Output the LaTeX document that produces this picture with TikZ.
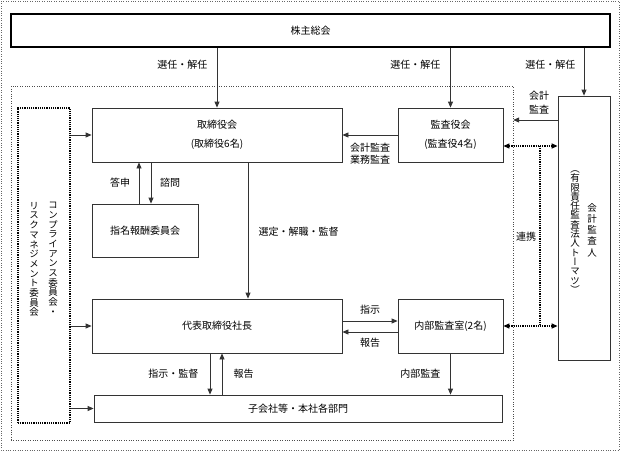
\documentclass[tikz,border=0pt]{standalone}
\usepackage{fontspec}
\setmainfont{Noto Sans CJK JP}
\newfontfamily\vjp[RawFeature=+vert]{Noto Sans CJK JP}
\usetikzlibrary{arrows.meta, calc}

\begin{document}
\begin{tikzpicture}[
        x=1pt, y=-1pt,
        font=\fontsize{10}{12}\selectfont,
        box/.style={draw=black!80, line width=0.8pt, inner sep=0pt},
        dotbox/.style={draw=black, densely dotted, line width=1.2pt, inner sep=0pt},
        vtext/.style={align=center, inner sep=0pt, font=\vjp\fontsize{9.5}{#1}\selectfont},
        vtext/.default=9.7,
        arr/.style={draw=black!80, line width=0.8pt, -{Triangle[length=6pt, width=5pt]}},
        link/.style={draw=black, densely dotted, line width=1.2pt},
        linkarr/.style={link, {Triangle[length=6pt, width=5pt]}-{Triangle[length=6pt, width=5pt]}}
    ]
    \useasboundingbox (0,0) rectangle (621,452);
    \draw[dotted, black!60] (1,1) rectangle (619,450);

    \node[draw=black!70, dotted, minimum width=502, minimum height=354, inner sep=0pt] (group) at (262,263) {};

    \node[box, draw=black, line width=1.4pt, minimum width=599, minimum height=33] (meeting) at (310.5,30.5) {株主総会};
    \node[box, minimum width=250, minimum height=54, align=center, font=\fontsize{10}{19}\selectfont] (board) at (217,135) {取締役会\\(取締役6名)};
    \node[box, minimum width=105, minimum height=54, align=center, font=\fontsize{10}{19}\selectfont] (auditors) at (450.5,135) {監査役会\\(監査役4名)};
    \node[box, minimum width=106, minimum height=53] (nomination) at (145,230.5) {指名報酬委員会};
    \node[box, minimum width=250, minimum height=54] (president) at (217,326) {代表取締役社長};
    \node[box, minimum width=105, minimum height=54] (internal) at (450.5,326) {内部監査室(2名)};
    \node[box, minimum width=408, minimum height=27] (divisions) at (298,408.5) {子会社等・本社各部門};
    \node[box, minimum width=52, minimum height=264] (accountant) at (584,228) {};
    \node[dotbox, minimum width=52, minimum height=315] (compliance) at (44,265.5) {};

    \node[vtext, anchor=north] (comp1) at (53,202) {コ\\ン\\プ\\ラ\\イ\\ア\\ン\\ス\\委\\員\\会\\・};
    \node[vtext, anchor=north] (comp2) at (34,202) {リ\\ス\\ク\\マ\\ネ\\ジ\\メ\\ン\\ト\\委\\員\\会};
    \node[vtext=11.2] (acc1) at (592,230) {会\\計\\監\\査\\人};
    \node[vtext=9.3] (acc2) at (575,232) {（\\有\\限\\責\\任\\監\\査\\法\\人\\ト\\ー\\マ\\ツ\\）};

    \draw[arr] (meeting.south -| board.north) -- (board.north);
    \draw[arr] (meeting.south -| auditors.north) -- (auditors.north);
    \draw[arr] (meeting.south -| accountant.north) -- (accountant.north);
    \node[anchor=east] (elect1) at (211,65) {選任・解任};
    \node[anchor=east] (elect2) at (444,65) {選任・解任};
    \node[anchor=east] (elect3) at (579,65) {選任・解任};

    \draw[arr] (compliance.east |- board.west) -- (board.west);
    \draw[arr] (compliance.east |- president.west) -- (president.west);
    \draw[arr] (compliance.east |- divisions.west) -- (divisions.west);

    \coordinate (answer) at ($(nomination.north)+(-6,0)$);
    \coordinate (consult) at ($(nomination.north)+(6,0)$);
    \draw[arr] (answer) -- (answer |- board.south);
    \draw[arr] (consult |- board.south) -- (consult);
    \node (answertext) at (120,183) {答申};
    \node (consulttext) at (170,183) {諮問};

    \coordinate (appoint) at ($(board.south)+(31,0)$);
    \draw[arr] (appoint) -- (appoint |- president.north);
    \node[anchor=west] (appointtext) at (255,232) {選定・解職・監督};

    \draw[arr] (auditors.west) -- (board.east);
    \node[align=center, font=\fontsize{10}{12}\selectfont] (audittext) at (370,154) {会計監査\\業務監査};

    \coordinate (acct) at (accountant.west |- 0,120);
    \draw[arr] (acct) -- (acct -| group.east);
    \node[align=center, font=\fontsize{10}{14}\selectfont] (accttext) at (539,103) {会計\\監査};

    \coordinate (linktop) at ($(auditors.east)+(0,11)$);
    \coordinate (linkup) at (540,146);
    \coordinate (linkdown) at (internal.east -| linkup);
    \draw[linkarr] (linktop) -- (linktop -| accountant.west);
    \draw[linkarr] (internal.east) -- (internal.east -| accountant.west);
    \draw[link] (linkup) -- (linkdown);
    \node (linktext) at (526,237) {連携};

    \coordinate (order) at ($(president.east)+(0,-5)$);
    \coordinate (report) at ($(president.east)+(0,6)$);
    \draw[arr] (order) -- (order -| internal.west);
    \draw[arr] (report -| internal.west) -- (report);
    \node (ordertext) at (370,310) {指示};
    \node (reporttext) at (370,343) {報告};

    \draw[arr] (internal.south) -- (internal.south |- divisions.north);
    \node[anchor=east] (inauditext) at (444,374) {内部監査};

    \coordinate (supervise) at ($(president.south)+(-7,0)$);
    \coordinate (feedback) at ($(president.south)+(5,0)$);
    \draw[arr] (supervise) -- (supervise |- divisions.north);
    \draw[arr] (feedback |- divisions.north) -- (feedback);
    \node[anchor=east] (supervisetext) at (202,374) {指示・監督};
    \node[anchor=west] (feedbacktext) at (230,374) {報告};
\end{tikzpicture}
\end{document}
